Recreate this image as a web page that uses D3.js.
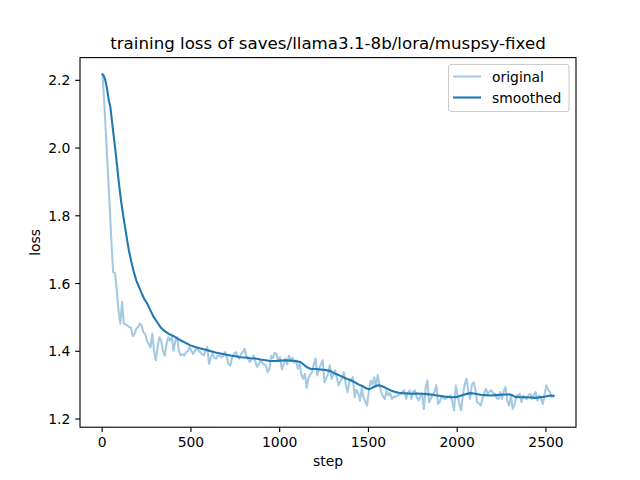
<!DOCTYPE html>
<html>
<head>
<meta charset="utf-8">
<script src="https://cdn.jsdelivr.net/npm/d3@7/dist/d3.min.js"></script>
<style>
  body { margin: 0; background: #fff; }
  svg text { font-family: "DejaVu Sans", sans-serif; fill: #000; }
</style>
</head>
<body>
<svg id="chart" width="640" height="480"></svg>
<script>
// raw loss, one value every 10 steps starting at step 5
var stepStart = 5, stepEvery = 10;
var lossOriginal = [
    // 5 .. 445
    2.216, 2.13, 2.03, 1.93, 1.83, 1.72, 1.632, 1.630, 1.58, 1.52,
    1.48, 1.545, 1.48, 1.478, 1.475, 1.47, 1.468, 1.443, 1.45, 1.465,
    1.47, 1.48, 1.475, 1.455, 1.45, 1.43, 1.42, 1.41, 1.45, 1.40,
    1.372, 1.41, 1.44, 1.43, 1.40, 1.385, 1.42, 1.44, 1.43, 1.44,
    1.40, 1.43, 1.44, 1.40, 1.386,
    // 455 .. 1005
    1.39, 1.386, 1.395, 1.40, 1.411, 1.40, 1.391, 1.40, 1.406, 1.40,
    1.396, 1.39, 1.386, 1.40, 1.411, 1.362, 1.38, 1.391, 1.38, 1.377,
    1.385, 1.386, 1.381, 1.385, 1.396, 1.38, 1.36, 1.357, 1.381, 1.39,
    1.396, 1.385, 1.377, 1.39, 1.396, 1.406, 1.385, 1.375, 1.367, 1.375,
    1.386, 1.37, 1.352, 1.36, 1.372, 1.365, 1.36, 1.357, 1.337, 1.345,
    1.385, 1.378, 1.394, 1.39, 1.37, 1.381,
    // 1015 .. 1455
    1.345, 1.36, 1.377, 1.36, 1.385, 1.37, 1.38, 1.365, 1.372, 1.347,
    1.362, 1.33, 1.317, 1.332, 1.29, 1.32, 1.33, 1.337, 1.36, 1.377,
    1.327, 1.347, 1.36, 1.372, 1.307, 1.32, 1.33, 1.357, 1.317, 1.33,
    1.342, 1.32, 1.298, 1.31, 1.32, 1.337, 1.30, 1.278, 1.307, 1.315,
    1.322, 1.263, 1.285, 1.275, 1.253,
    // 1465 .. 1995
    1.29, 1.263, 1.25, 1.238, 1.28, 1.312, 1.30, 1.322, 1.293, 1.329,
    1.30, 1.278, 1.265, 1.258, 1.283, 1.268, 1.275, 1.258, 1.265, 1.263,
    1.268, 1.27, 1.273, 1.28, 1.283, 1.258, 1.275, 1.283, 1.258, 1.28,
    1.283, 1.263, 1.253, 1.265, 1.273, 1.228, 1.29, 1.312, 1.248, 1.26,
    1.27, 1.278, 1.298, 1.243, 1.25, 1.268, 1.26, 1.258, 1.263, 1.265,
    1.268, 1.25, 1.224, 1.298,
    // 2005 .. 2545
    1.27, 1.243, 1.224, 1.27, 1.30, 1.317, 1.283, 1.258, 1.30, 1.307,
    1.288, 1.248, 1.245, 1.238, 1.258, 1.275, 1.288, 1.273, 1.28, 1.283,
    1.275, 1.273, 1.26, 1.258, 1.278, 1.258, 1.28, 1.293, 1.253, 1.238,
    1.268, 1.229, 1.24, 1.263, 1.27, 1.273, 1.248, 1.268, 1.26, 1.258,
    1.27, 1.273, 1.258, 1.27, 1.278, 1.253, 1.268, 1.26, 1.243, 1.27,
    1.298, 1.285, 1.278, 1.263, 1.268
];

// smoothed curve, read at its own steps
var smoothSteps = [
    5, 12, 20, 30, 40, 49, 60, 70, 80, 96,
    110, 124, 138, 152, 166, 180, 195, 209, 225, 240,
    256, 274, 293, 312, 331, 350, 378, 406, 444, 481,
    500, 528, 556, 585, 613, 641, 669, 697, 725, 754,
    782, 810, 838, 866, 895, 923, 951, 979, 1007, 1035,
    1063, 1092, 1120, 1134, 1148, 1162, 1176, 1205, 1233, 1261,
    1289, 1317, 1345, 1374, 1402, 1430, 1449, 1468, 1487, 1505,
    1519, 1533, 1548, 1562, 1576, 1590, 1604, 1618, 1637, 1656,
    1675, 1693, 1722, 1750, 1778, 1806, 1834, 1862, 1890, 1919,
    1947, 1975, 2003, 2022, 2050, 2078, 2106, 2134, 2162, 2191,
    2219, 2247, 2275, 2303, 2331, 2360, 2388, 2416, 2444, 2472,
    2500, 2529, 2545
];
var lossSmoothed = [
    2.216, 2.212, 2.20, 2.175, 2.14, 2.12, 2.07, 2.025, 1.98, 1.90,
    1.84, 1.79, 1.745, 1.70, 1.665, 1.635, 1.608, 1.59, 1.57, 1.553,
    1.54, 1.52, 1.50, 1.485, 1.47, 1.46, 1.45, 1.443, 1.431, 1.421,
    1.416, 1.411, 1.407, 1.403, 1.399, 1.395, 1.392, 1.389, 1.386, 1.384,
    1.381, 1.38, 1.378, 1.377, 1.374, 1.372, 1.37, 1.37, 1.371, 1.372,
    1.371, 1.37, 1.367, 1.361, 1.355, 1.35, 1.347, 1.346, 1.345, 1.343,
    1.34, 1.332, 1.326, 1.319, 1.313, 1.306, 1.30, 1.296, 1.29, 1.286,
    1.289, 1.293, 1.297, 1.298, 1.296, 1.293, 1.289, 1.286, 1.281, 1.278,
    1.276, 1.275, 1.274, 1.273, 1.274, 1.273, 1.272, 1.27, 1.268, 1.266,
    1.264, 1.263, 1.264, 1.267, 1.272, 1.275, 1.273, 1.27, 1.269, 1.268,
    1.269, 1.27, 1.271, 1.271, 1.264, 1.263, 1.263, 1.262, 1.261, 1.263,
    1.265, 1.268, 1.267
];

var xTicks = [0, 500, 1000, 1500, 2000, 2500];
var yTicks = [1.2, 1.4, 1.6, 1.8, 2.0, 2.2];
var seriesNames = ["original", "smoothed"];
var chartTitle = "training loss of saves/llama3.1-8b/lora/muspsy-fixed";

var rawPoints = lossOriginal.map(function (v, i) {
    return { step: stepStart + i * stepEvery, loss: v };
});
var smoothPoints = lossSmoothed.map(function (v, i) {
    return { step: smoothSteps[i], loss: v };
});

// figure layout, matplotlib defaults for a 6.4x4.8 inch figure at 100 dpi
// (named plotTop etc. because a global "top" is window.top)
var plotLeft = 80, plotRight = 576, plotTop = 57.6, plotBottom = 427.2;
var blue = "#1f77b4";
var tickFont = 13.9;

var svg = d3.select("#chart");

// 5% margins on both axes, like autoscale
function padded(extent) {
    var m = (extent[1] - extent[0]) * 0.05;
    return [extent[0] - m, extent[1] + m];
}

var allSteps = rawPoints.map(function (d) { return d.step; });
var allLoss = lossOriginal.concat(lossSmoothed);

var x = d3.scaleLinear()
    .domain(padded(d3.extent(allSteps)))
    .range([plotLeft, plotRight]);

var y = d3.scaleLinear()
    .domain(padded(d3.extent(allLoss)))
    .range([plotBottom, plotTop]);

var line = d3.line()
    .x(function (d) { return x(d.step); })
    .y(function (d) { return y(d.loss); });

var plot = svg.append("g");

plot.append("path")
    .datum(rawPoints)
    .attr("fill", "none")
    .attr("stroke", blue)
    .attr("stroke-opacity", 0.4)
    .attr("stroke-width", 2.08)
    .attr("stroke-linejoin", "round")
    .attr("stroke-linecap", "square")
    .attr("d", line);

plot.append("path")
    .datum(smoothPoints)
    .attr("fill", "none")
    .attr("stroke", blue)
    .attr("stroke-width", 2.08)
    .attr("stroke-linejoin", "round")
    .attr("stroke-linecap", "square")
    .attr("d", line);

// axes
var xAxis = d3.axisBottom(x)
    .tickValues(xTicks)
    .tickFormat(d3.format("d"))
    .tickSize(4.86)
    .tickPadding(4.86);

var yAxis = d3.axisLeft(y)
    .tickValues(yTicks)
    .tickFormat(d3.format(".1f"))
    .tickSize(4.86)
    .tickPadding(4.86);

var gx = svg.append("g")
    .attr("transform", "translate(0," + plotBottom + ")")
    .call(xAxis);

var gy = svg.append("g")
    .attr("transform", "translate(" + plotLeft + ",0)")
    .call(yAxis);

[gx, gy].forEach(function (g) {
    g.select(".domain").remove();
    g.selectAll(".tick line")
        .attr("stroke", "#000")
        .attr("stroke-width", 1.1);
    g.selectAll(".tick text")
        .style("font-size", tickFont + "px")
        .style("font-family", "DejaVu Sans, sans-serif")
        .attr("fill", "#000");
});

gx.selectAll(".tick text").attr("dy", "0.76em");
gy.selectAll(".tick text").attr("dy", "0.36em");

// frame
svg.append("rect")
    .attr("x", plotLeft)
    .attr("y", plotTop)
    .attr("width", plotRight - plotLeft)
    .attr("height", plotBottom - plotTop)
    .attr("fill", "none")
    .attr("stroke", "#000")
    .attr("stroke-width", 1.1);

// labels
svg.append("text")
    .attr("x", (plotLeft + plotRight) / 2)
    .attr("y", 49)
    .attr("text-anchor", "middle")
    .style("font-size", "16.67px")
    .text(chartTitle);

svg.append("text")
    .attr("x", (plotLeft + plotRight) / 2)
    .attr("y", 466)
    .attr("text-anchor", "middle")
    .style("font-size", tickFont + "px")
    .text("step");

svg.append("text")
    .attr("transform", "translate(40," + (plotTop + plotBottom) / 2 + ") rotate(-90)")
    .attr("text-anchor", "middle")
    .style("font-size", tickFont + "px")
    .text("loss");

// legend, upper right
var legend = svg.append("g")
    .attr("transform", "translate(448.5,64.5)");

legend.append("rect")
    .attr("width", 120.5)
    .attr("height", 47)
    .attr("rx", 2.8)
    .attr("fill", "#fff")
    .attr("fill-opacity", 0.8)
    .attr("stroke", "#cccccc")
    .attr("stroke-width", 1.1);

var entry = legend.selectAll("g.entry")
    .data(seriesNames)
    .enter().append("g")
    .attr("class", "entry")
    .attr("transform", function (d, i) { return "translate(0," + (12 + i * 21) + ")"; });

entry.append("line")
    .attr("x1", 4.5)
    .attr("x2", 32.5)
    .attr("stroke", blue)
    .attr("stroke-opacity", function (d, i) { return i === 0 ? 0.4 : 1; })
    .attr("stroke-width", 2.08);

entry.append("text")
    .attr("x", 43.5)
    .attr("dy", "0.36em")
    .style("font-size", tickFont + "px")
    .text(function (d) { return d; });
</script>
</body>
</html>
